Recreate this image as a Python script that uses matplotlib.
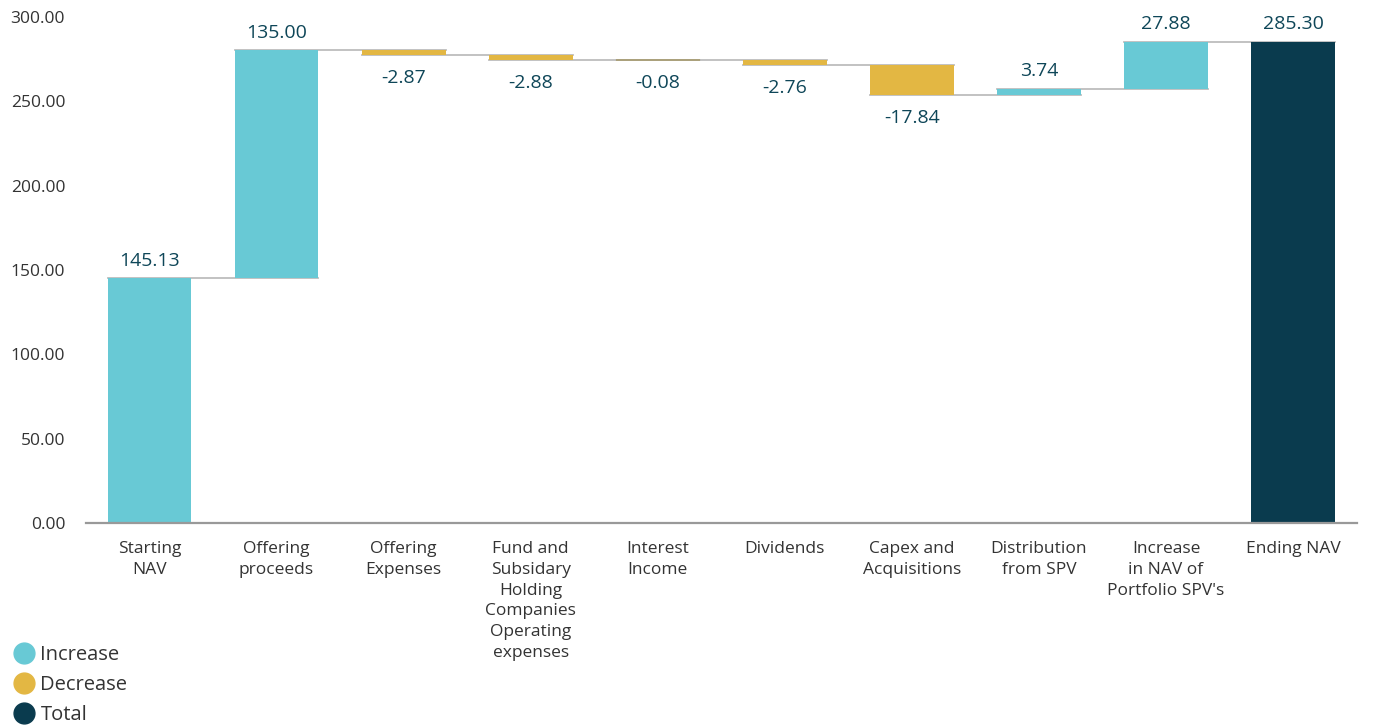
import matplotlib
matplotlib.use("Agg")
import matplotlib.pyplot as plt
from matplotlib.lines import Line2D
import numpy as np

categories = ["Starting\nNAV", "Offering\nproceeds", "Offering\nExpenses",
              "Fund and\nSubsidary\nHolding\nCompanies\nOperating\nexpenses",
              "Interest\nIncome", "Dividends", "Capex and\nAcquisitions",
              "Distribution\nfrom SPV", "Increase\nin NAV of\nPortfolio SPV's", "Ending NAV"]
values = [145.13, 135.00, -2.87, -2.88, -0.08, -2.76, -17.84, 3.74, 27.88, 285.30]
kinds = ["total", "inc", "dec", "dec", "dec", "dec", "dec", "inc", "inc", "total"]

C_INC = "#68C9D5"
C_DEC = "#E3B743"
C_TOT = "#0A3B4E"
C_TXT = "#0E4658"
C_GRAY = "#333333"

plt.rcParams['font.family'] = ['Open Sans', 'DejaVu Sans']

fig = plt.figure(figsize=(13.82, 7.28), dpi=100)
ax = fig.add_axes([0.0622, 0.2816, 0.9194, 0.6951])

x = np.arange(len(values))
w = 0.66
bottoms, heights, colors, ends = [], [], [], []
cum = 0.0
for i, (v, k) in enumerate(zip(values, kinds)):
    if k == "total":
        b, h = 0, v
        col = C_INC if i == 0 else C_TOT
        cum = v
    else:
        if v >= 0:
            b, h = cum, v
            col = C_INC
        else:
            b, h = cum + v, -v
            col = C_DEC
        cum += v
    bottoms.append(b); heights.append(h); colors.append(col); ends.append(cum)

ax.bar(x, heights, bottom=bottoms, width=w, color=colors, zorder=3)
# thin edge for near-zero bars so they remain visible
for i, hgt in enumerate(heights):
    if hgt < 0.5:
        ax.bar(x[i], hgt, bottom=bottoms[i], width=w, color=colors[i],
               edgecolor="#A89C70", linewidth=1.2, zorder=3)

# connectors
for i in range(len(values) - 1):
    lvl = ends[i]
    ax.plot([x[i] - w / 2, x[i + 1] + w / 2], [lvl, lvl], color="#BDBDBD", lw=1.3, zorder=2)

# value labels
for i, v in enumerate(values):
    top = bottoms[i] + heights[i]
    if v >= 0:
        ax.annotate(f"{v:.2f}", (x[i], top), xytext=(0, 6), textcoords="offset points",
                    ha="center", va="bottom", fontsize=14, color=C_TXT)
    else:
        ax.annotate(f"{v:.2f}", (x[i], bottoms[i]), xytext=(0, -10), textcoords="offset points",
                    ha="center", va="top", fontsize=14, color=C_TXT)

ax.set_xlim(-0.5, len(values) - 0.5)
ax.set_ylim(0, 300)
ax.set_yticks(np.arange(0, 301, 50))
ax.set_yticklabels([f"{t:.2f}" for t in np.arange(0, 301, 50)])
ax.set_xticks(x)
ax.set_xticklabels(categories, linespacing=1.4)
ax.tick_params(axis="y", length=0, pad=15, labelsize=12.5, labelcolor=C_GRAY)
ax.tick_params(axis="x", length=0, pad=13, labelsize=12.5, labelcolor=C_GRAY)
for s in ["top", "right", "left"]:
    ax.spines[s].set_visible(False)
ax.spines["bottom"].set_color("#999999")
ax.spines["bottom"].set_linewidth(1.6)
ax.spines["bottom"].set_zorder(4)

handles = [Line2D([], [], marker="o", ls="", markersize=15, color=c) for c in [C_INC, C_DEC, C_TOT]]
fig.legend(handles, ["Increase", "Decrease", "Total"], loc="upper left",
           bbox_to_anchor=(0.003, 0.125), frameon=False, fontsize=14.5, handletextpad=0.2,
           labelspacing=0.5, borderaxespad=0, handlelength=1.2, labelcolor=C_GRAY)

fig.savefig("out.png", dpi=100)
